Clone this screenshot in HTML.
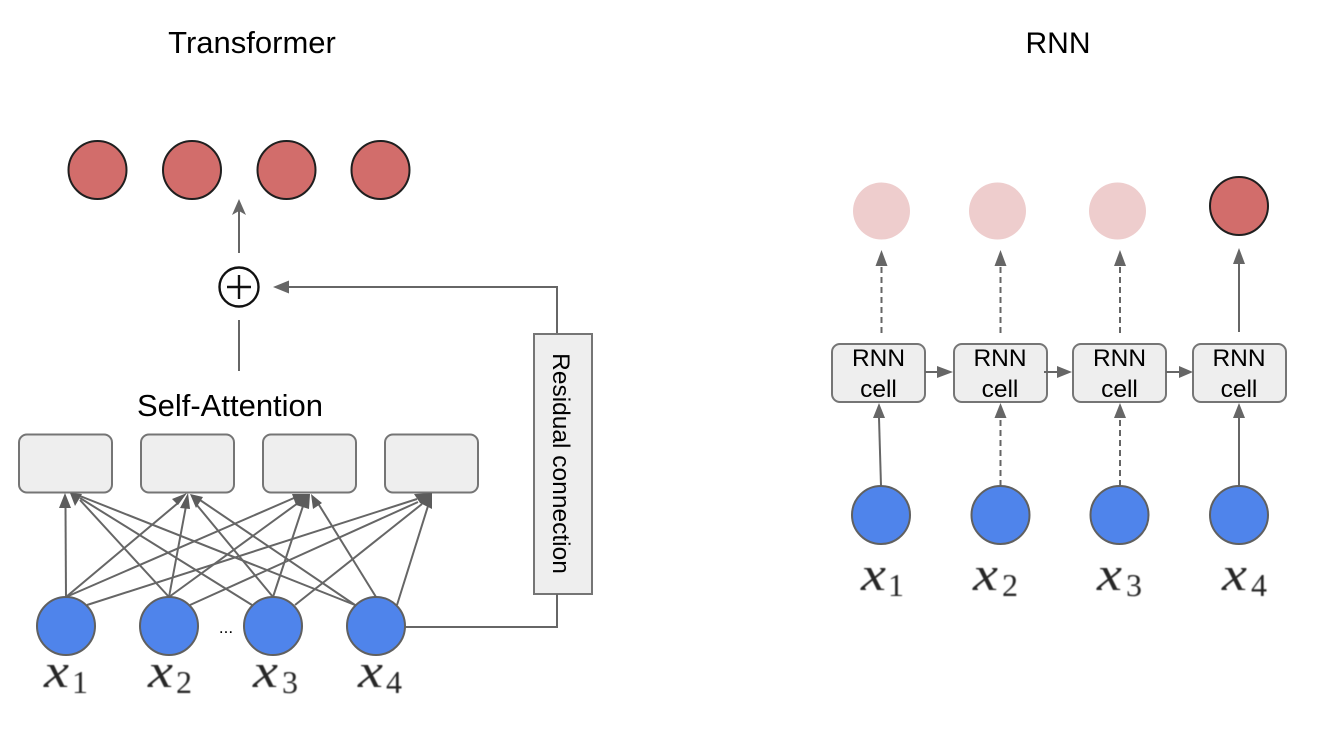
<!DOCTYPE html>
<html lang="en">
<head>
<meta charset="utf-8">
<title>Transformer vs RNN</title>
<style>
html,body{margin:0;padding:0;background:#fff;}
svg{display:block;}
text{font-family:"Liberation Sans",sans-serif;fill:#000;}
.serif{font-family:"Liberation Serif",serif;fill:#262626;}
.v{font-style:italic;font-size:48px;}
.s{font-size:32px;}
.l{stroke:#666;stroke-width:2;fill:none;}
.d{stroke-dasharray:6 4;}
.box{fill:#eee;stroke:#757575;stroke-width:2;}
.blue{fill:#4f84eb;stroke:#606060;stroke-width:2;}
.red{fill:#d26d6b;stroke:#1f1f1f;stroke-width:2;}
.fade{fill:#eecdcd;}
.c{font-size:24.500px;text-anchor:middle;}
</style>
</head>
<body>
<svg width="1343" height="733" viewBox="0 0 1343 733" xmlns="http://www.w3.org/2000/svg">
<defs>
<filter id="soft" x="-10%" y="-10%" width="120%" height="120%"><feGaussianBlur stdDeviation="0.5"/></filter>
</defs>

<rect x="0" y="0" width="1343" height="733" fill="#fff"/>

<text x="252" y="53" font-size="31" text-anchor="middle">Transformer</text>
<text x="1058" y="53" font-size="30" text-anchor="middle">RNN</text>

<!-- Transformer outputs -->
<circle class="red" cx="97.5" cy="170" r="29"/>
<circle class="red" cx="192" cy="170" r="29"/>
<circle class="red" cx="286.5" cy="170" r="29"/>
<circle class="red" cx="380.5" cy="170" r="29"/>

<!-- Sum to output -->
<line class="l" x1="239" y1="253" x2="239" y2="204"/>
<path d="M239 199 L246 215 L239 211 L232 215 Z" fill="#666"/>
<g>
<circle cx="239" cy="287" r="19.5" fill="#fff" stroke="#111" stroke-width="2.400"/>
<line x1="227" y1="287" x2="251" y2="287" stroke="#111" stroke-width="2.400"/>
<line x1="239" y1="275" x2="239" y2="299" stroke="#111" stroke-width="2.400"/>
</g>
<line class="l" x1="239" y1="320" x2="239" y2="371"/>
<path class="l" d="M288 287 H557 V333"/>
<path d="M273 287 L289 280.5 V293.5 Z" fill="#666"/>

<text x="230" y="416" font-size="31" text-anchor="middle">Self-Attention</text>

<!-- Residual box -->
<rect class="box" x="534" y="334" width="58" height="260"/>
<text transform="translate(553 463.5) rotate(90)" font-size="24.5" text-anchor="middle">Residual connection</text>
<path class="l" d="M557 594 V627 H405"/>

<!-- Attention boxes -->
<rect class="box" x="19" y="434.500" width="93" height="58" rx="8"/>
<rect class="box" x="141" y="434.500" width="93" height="58" rx="8"/>
<rect class="box" x="263" y="434.500" width="93" height="58" rx="8"/>
<rect class="box" x="385" y="434.500" width="93" height="58" rx="8"/>

<!-- Attention lines -->
<g>
<line class="l" x1="66" y1="597" x2="65.500" y2="506"/>
<line class="l" x1="66" y1="597" x2="178" y2="503"/>
<line class="l" x1="66" y1="597" x2="294" y2="498"/>
<line class="l" x1="87" y1="605" x2="417" y2="499"/>
<line class="l" x1="169" y1="597" x2="80" y2="500"/>
<line class="l" x1="169" y1="597" x2="186" y2="506"/>
<line class="l" x1="169" y1="597" x2="298" y2="503"/>
<line class="l" x1="190" y1="605" x2="418" y2="502"/>
<line class="l" x1="252" y1="605" x2="80" y2="498"/>
<line class="l" x1="273" y1="597" x2="196" y2="504"/>
<line class="l" x1="273" y1="597" x2="303" y2="506"/>
<line class="l" x1="295" y1="605" x2="422" y2="504"/>
<line class="l" x1="355" y1="605" x2="80" y2="496"/>
<line class="l" x1="355" y1="605" x2="200" y2="500"/>
<line class="l" x1="376" y1="597" x2="316" y2="500"/>
<line class="l" x1="397" y1="605" x2="428" y2="506"/>
</g>
<g fill="#5c5c5c">
<path d="M65 493 L71 508 L59 508 Z"/>
<path d="M70 493 L82 494 L75 506 Z"/>
<path d="M172 499 L187 493 L178 505 Z"/>
<path d="M188 493 L190 509 L180 508 Z"/>
<path d="M190 494 L203 497 L196 508 Z"/>
<path d="M292 494 L310 494 L309 509 L296 505 Z"/>
<path d="M311 494 L322 503 L313 509 Z"/>
<path d="M414 494 L432 493 L432 509 L420 503 Z"/>
</g>

<!-- Transformer inputs -->
<circle class="blue" cx="66" cy="626" r="29"/>
<circle class="blue" cx="169" cy="626" r="29"/>
<circle class="blue" cx="273" cy="626" r="29"/>
<circle class="blue" cx="376" cy="626" r="29"/>
<text x="226" y="633" font-size="17" text-anchor="middle">...</text>

<g filter="url(#soft)">
<text class="serif v" x="44" y="687" textLength="25" lengthAdjust="spacingAndGlyphs">x</text><text class="serif s" x="72" y="693">1</text>
<text class="serif v" x="148" y="687" textLength="25" lengthAdjust="spacingAndGlyphs">x</text><text class="serif s" x="176" y="693">2</text>
<text class="serif v" x="253" y="687" textLength="25" lengthAdjust="spacingAndGlyphs">x</text><text class="serif s" x="282" y="693">3</text>
<text class="serif v" x="358" y="687" textLength="25" lengthAdjust="spacingAndGlyphs">x</text><text class="serif s" x="386" y="693">4</text>
</g>

<!-- RNN outputs -->
<circle class="fade" cx="881.500" cy="211" r="28.5"/>
<circle class="fade" cx="997.500" cy="211" r="28.5"/>
<circle class="fade" cx="1117.500" cy="211" r="28.5"/>
<circle class="red" cx="1239" cy="206" r="29"/>

<!-- RNN up arrows -->
<line class="l d" x1="881.500" y1="333" x2="881.500" y2="266"/>
<path d="M881.500 250 L887.500 266 H875.500 Z" fill="#666"/>
<line class="l d" x1="1000.500" y1="333" x2="1000.500" y2="266"/>
<path d="M1000.500 250 L1006.500 266 H994.500 Z" fill="#666"/>
<line class="l d" x1="1120" y1="333" x2="1120" y2="266"/>
<path d="M1120 250 L1126 266 H1114 Z" fill="#666"/>
<line class="l" x1="1239" y1="332" x2="1239" y2="264"/>
<path d="M1239 248 L1245 264 H1233 Z" fill="#666"/>

<!-- RNN cells -->
<g>
<rect class="box" x="832" y="344" width="93" height="58" rx="8"/>
<text class="c" x="878.500" y="366">RNN</text><text class="c" x="878.500" y="397">cell</text>
</g>
<g>
<rect class="box" x="954" y="344" width="93" height="58" rx="8"/>
<text class="c" x="1000" y="366">RNN</text><text class="c" x="1000" y="397">cell</text>
</g>
<g>
<rect class="box" x="1073" y="344" width="93" height="58" rx="8"/>
<text class="c" x="1119.500" y="366">RNN</text><text class="c" x="1119.500" y="397">cell</text>
</g>
<g>
<rect class="box" x="1193" y="344" width="93" height="58" rx="8"/>
<text class="c" x="1239" y="366">RNN</text><text class="c" x="1239" y="397">cell</text>
</g>

<!-- RNN horizontal arrows -->
<line class="l" x1="925" y1="372" x2="938" y2="372"/>
<path d="M953 372 L937 366 V378 Z" fill="#666"/>
<line class="l" x1="1044" y1="372" x2="1058" y2="372"/>
<path d="M1072 372 L1057 366 V378 Z" fill="#666"/>
<line class="l" x1="1166" y1="372" x2="1180" y2="372"/>
<path d="M1193 372 L1179 366 V378 Z" fill="#666"/>

<!-- RNN input arrows -->
<line class="l" x1="881" y1="486" x2="879" y2="418"/>
<path d="M879 403 L885 418 H873 Z" fill="#666"/>
<line class="l d" x1="1000.500" y1="486" x2="1000.500" y2="418"/>
<path d="M1000.500 403 L1006.500 418 H994.500 Z" fill="#666"/>
<line class="l d" x1="1120" y1="486" x2="1120" y2="418"/>
<path d="M1120 403 L1126 418 H1114 Z" fill="#666"/>
<line class="l" x1="1239" y1="486" x2="1239" y2="418"/>
<path d="M1239 403 L1245 418 H1233 Z" fill="#666"/>

<!-- RNN inputs -->
<circle class="blue" cx="881" cy="515" r="29"/>
<circle class="blue" cx="1000.500" cy="515" r="29"/>
<circle class="blue" cx="1119.500" cy="515" r="29"/>
<circle class="blue" cx="1239" cy="515" r="29"/>

<g filter="url(#soft)">
<text class="serif v" x="861" y="590" textLength="25" lengthAdjust="spacingAndGlyphs">x</text><text class="serif s" x="888" y="596">1</text>
<text class="serif v" x="973" y="590" textLength="25" lengthAdjust="spacingAndGlyphs">x</text><text class="serif s" x="1002" y="596">2</text>
<text class="serif v" x="1097" y="590" textLength="25" lengthAdjust="spacingAndGlyphs">x</text><text class="serif s" x="1126" y="596">3</text>
<text class="serif v" x="1222" y="590" textLength="25" lengthAdjust="spacingAndGlyphs">x</text><text class="serif s" x="1251" y="596">4</text>
</g>
</svg>
</body>
</html>
